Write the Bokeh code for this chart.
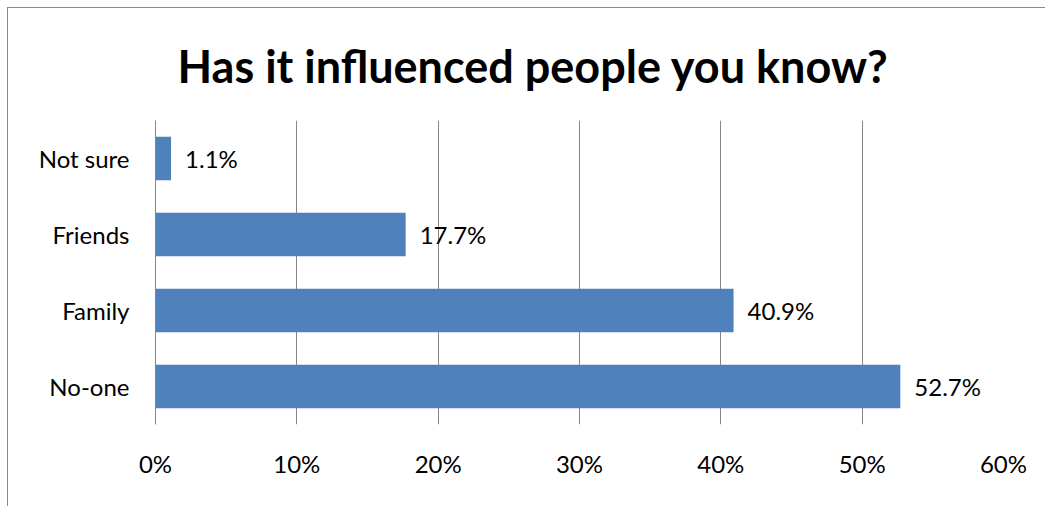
from bokeh.plotting import figure
from bokeh.models import ColumnDataSource, FixedTicker, PrintfTickFormatter, Range1d, FactorRange
from bokeh.core.properties import value
from bokeh.embed import file_html
from bokeh.resources import INLINE

categories = ["No-one", "Family", "Friends", "Not sure"]
values = [52.7, 40.9, 17.7, 1.1]
labels = ["52.7%", "40.9%", "17.7%", "1.1%"]
x_ticks = [0, 10, 20, 30, 40, 50, 60]
title_text = "Has it influenced people you know?"

FONT = "Lato"
GRID = "#868686"

src = ColumnDataSource(dict(cat=categories, val=values, lab=labels))

p = figure(width=1038, height=499, output_backend="svg", toolbar_location=None,
           y_range=FactorRange(factors=categories, range_padding=0),
           x_range=Range1d(0, 60),
           min_border_left=147, min_border_right=43, min_border_top=112, min_border_bottom=83)
p.margin = (7, 0, 0, 7)
p.styles = {"border-left": "1px solid #8a8a8a", "border-top": "1px solid #8a8a8a"}

p.title.text = title_text
p.title.text_font = FONT
p.title.text_font_size = "45px"
p.title.text_font_style = "bold"
p.title.text_color = "#000000"
p.title.align = "left"
p.title.offset = 22
p.title.standoff = 55

p.hbar(y="cat", right="val", height=0.57, source=src, color="#4F81BD", line_color=None)
p.text(x="val", y="cat", text="lab", source=src, x_offset=14, text_baseline="middle",
       text_font=value(FONT), text_font_size="24px", text_color="#000000")

p.xaxis.ticker = FixedTicker(ticks=x_ticks)
p.xaxis.formatter = PrintfTickFormatter(format="%d%%")
p.xaxis.axis_line_color = None
p.xaxis.major_tick_line_color = None
p.xaxis.minor_tick_line_color = None
p.xaxis.major_label_standoff = 18
p.xaxis.major_label_text_font = FONT
p.xaxis.major_label_text_font_size = "24px"
p.xaxis.major_label_text_color = "#000000"

p.yaxis.axis_line_color = GRID
p.yaxis.major_tick_line_color = None
p.yaxis.minor_tick_line_color = None
p.yaxis.major_label_standoff = 20
p.yaxis.major_label_text_font = FONT
p.yaxis.major_label_text_font_size = "24px"
p.yaxis.major_label_text_color = "#000000"

p.xgrid.grid_line_color = GRID
p.ygrid.grid_line_color = None
p.outline_line_color = None
p.background_fill_color = "white"
p.border_fill_color = "white"

open("out.html", "w").write(file_html(p, INLINE))
